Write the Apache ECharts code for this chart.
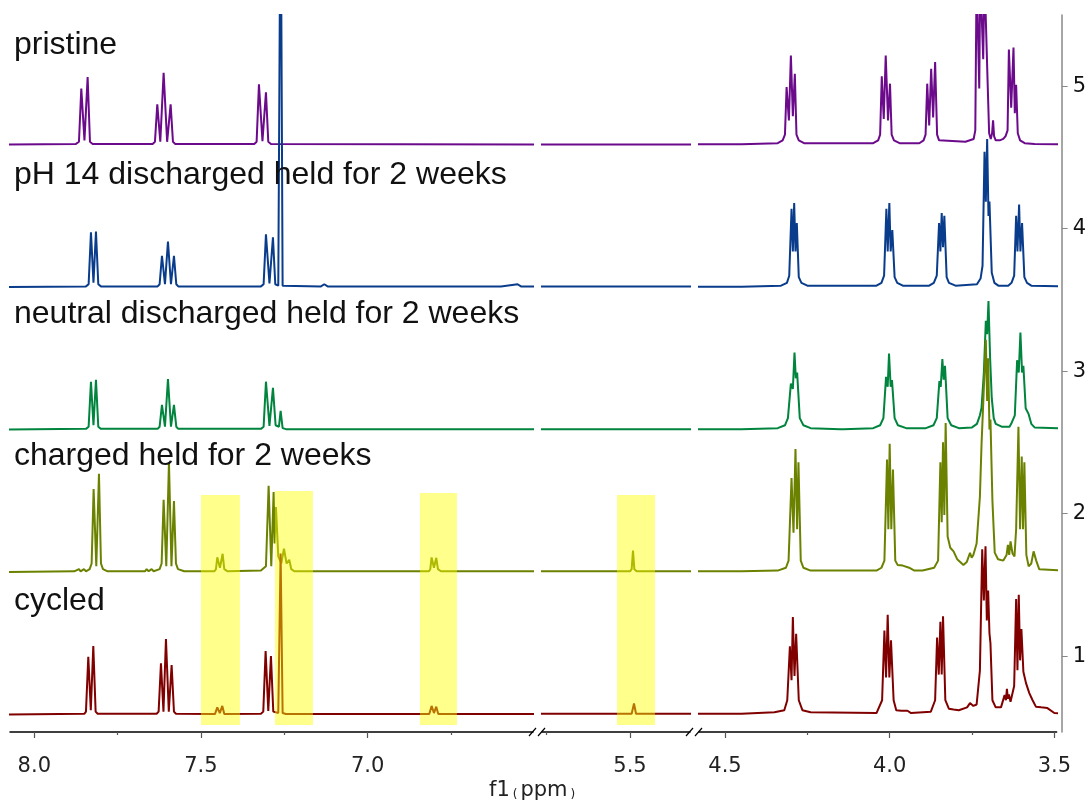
<!DOCTYPE html>
<html><head><meta charset="utf-8">
<script src="https://cdn.jsdelivr.net/npm/echarts@6/dist/echarts.min.js"></script>
<style>html,body{margin:0;padding:0;background:#fff}#c{width:1089px;height:801px}</style>
</head><body><div id="c"></div>
<script>
// ---------------- data (ppm, intensity above own baseline) ----------------
const spectrumNames = ['pristine', 'pH 14 discharged held for 2 weeks', 'neutral discharged held for 2 weeks', 'charged held for 2 weeks', 'cycled'];
const spectrumOffsets = [4.59, 3.59, 2.59, 1.59, 0.59];
const spectrumColors = ['#6c0a8c', '#0a3c8c', '#00843e', '#6b8200', '#800000'];

const pristine = [
  [8.10,0],[7.875,0.005],[7.866,0.02],[7.859,0.393],[7.8495,0.03],[7.840,0.474],[7.833,0.02],[7.825,0.005],
  [7.645,0.005],[7.638,0.02],[7.631,0.283],[7.622,0.02],[7.612,0.505],[7.6015,0.02],[7.591,0.283],[7.584,0.02],[7.577,0.005],
  [7.340,0.005],[7.333,0.02],[7.326,0.423],[7.3155,0.025],[7.305,0.367],[7.298,0.02],[7.290,0.005],
  [6.40,0],[4.45,0.003],
  [4.34,0.01],[4.325,0.03],[4.318,0.07],[4.313,0.404],[4.306,0.17],[4.300,0.626],[4.294,0.20],[4.288,0.498],[4.283,0.07],[4.276,0.03],[4.26,0.01],
  [4.05,0.01],[4.035,0.03],[4.029,0.07],[4.024,0.479],[4.018,0.18],[4.012,0.626],[4.005,0.17],[3.999,0.428],[3.994,0.07],[3.987,0.03],[3.97,0.01],
  [3.91,0.01],[3.897,0.03],[3.891,0.07],[3.886,0.428],[3.880,0.135],[3.874,0.533],[3.868,0.19],[3.862,0.58],[3.856,0.07],[3.850,0.03],
  [3.77,0.02],[3.745,0.04],
  [3.740,0.10],[3.736,1.2],[3.731,1.2],[3.728,0.395],[3.725,1.2],[3.720,1.2],[3.716,0.6],[3.712,1.2],[3.707,1.2],[3.703,0.47],[3.698,0.08],[3.693,0.04],[3.689,0.08],[3.686,0.17],[3.683,0.06],[3.678,0.03],[3.672,0.04],[3.666,0.03],
  [3.655,0.04],[3.648,0.06],[3.642,0.10],[3.638,0.667],[3.631,0.26],[3.624,0.681],[3.620,0.22],[3.616,0.42],[3.611,0.08],[3.604,0.03],[3.59,0.01],[3.56,0.005],[3.40,0]
];
const ph14 = [
  [8.10,0],[7.845,0.005],[7.837,0.02],[7.830,0.385],[7.8225,0.03],[7.815,0.39],[7.808,0.02],[7.80,0.005],
  [7.630,0.005],[7.624,0.02],[7.617,0.22],[7.608,0.02],[7.599,0.32],[7.590,0.02],[7.581,0.22],[7.574,0.02],[7.568,0.005],
  [7.320,0.005],[7.312,0.02],[7.305,0.37],[7.2945,0.025],[7.284,0.35],[7.277,0.02],[7.268,0.01],[7.261,3.0],[7.255,0.01],
  [7.14,0.005],[7.13,0.02],[7.12,0.005],[6.60,0.005],[6.55,0.02],[6.54,0.005],[4.45,0.003],
  [4.33,0.01],[4.312,0.03],[4.305,0.08],[4.298,0.55],[4.294,0.25],[4.290,0.59],[4.286,0.25],[4.282,0.45],[4.276,0.07],[4.268,0.03],[4.25,0.01],
  [4.04,0.01],[4.025,0.03],[4.017,0.08],[4.010,0.55],[4.006,0.25],[4.001,0.59],[3.997,0.25],[3.992,0.40],[3.985,0.07],[3.977,0.03],[3.96,0.01],
  [3.88,0.01],[3.866,0.03],[3.857,0.08],[3.850,0.45],[3.846,0.25],[3.842,0.52],[3.838,0.28],[3.834,0.50],[3.827,0.07],[3.82,0.03],[3.80,0.01],
  [3.735,0.02],[3.724,0.06],[3.718,0.15],[3.712,0.95],[3.708,0.6],[3.704,1.04],[3.700,0.5],[3.697,0.6],[3.690,0.10],[3.682,0.03],[3.67,0.01],
  [3.64,0.01],[3.630,0.03],[3.622,0.08],[3.616,0.50],[3.612,0.25],[3.607,0.58],[3.603,0.25],[3.598,0.45],[3.591,0.07],[3.583,0.03],[3.57,0.01],[3.40,0]
];
const neutral = [
  [8.10,0],[7.845,0.005],[7.837,0.02],[7.830,0.336],[7.8225,0.03],[7.815,0.35],[7.808,0.02],[7.80,0.005],
  [7.630,0.005],[7.624,0.02],[7.617,0.173],[7.608,0.02],[7.599,0.355],[7.590,0.02],[7.581,0.173],[7.574,0.02],[7.568,0.005],
  [7.320,0.005],[7.312,0.02],[7.305,0.336],[7.2945,0.025],[7.284,0.293],[7.276,0.03],[7.266,0.02],[7.261,0.131],[7.255,0.01],[7.245,0.003],
  [4.45,0.003],
  [4.34,0.01],[4.318,0.03],[4.309,0.08],[4.300,0.323],[4.294,0.285],[4.289,0.54],[4.285,0.36],[4.281,0.40],[4.273,0.08],[4.262,0.03],[4.24,0.01],
  [4.15,0.003],[4.146,0.008],[4.14,0.003],
  [4.05,0.01],[4.029,0.03],[4.019,0.08],[4.011,0.37],[4.006,0.30],[4.002,0.533],[3.997,0.30],[3.993,0.347],[3.985,0.08],[3.975,0.03],[3.95,0.01],
  [3.89,0.01],[3.867,0.03],[3.857,0.08],[3.849,0.34],[3.845,0.30],[3.840,0.494],[3.836,0.35],[3.832,0.447],[3.824,0.08],[3.813,0.03],[3.79,0.01],
  [3.75,0.015],[3.735,0.04],[3.726,0.10],[3.721,0.154],[3.714,0.4],[3.708,0.763],[3.704,0.67],[3.700,0.903],[3.695,0.5],[3.690,0.22],[3.684,0.08],[3.678,0.04],[3.66,0.02],
  [3.636,0.02],[3.631,0.04],[3.626,0.03],[3.620,0.10],[3.613,0.487],[3.608,0.40],[3.603,0.681],[3.598,0.40],[3.594,0.447],[3.587,0.15],[3.578,0.108],[3.570,0.04],[3.56,0.015],[3.40,0]
];
const charged = [
  [8.10,0],[7.88,0.005],[7.866,0.02],[7.861,0.005],[7.851,0.02],[7.845,0.005],
  [7.834,0.02],[7.828,0.06],[7.822,0.582],[7.814,0.04],[7.806,0.69],[7.800,0.06],[7.794,0.02],[7.78,0.005],
  [7.668,0.005],[7.663,0.02],[7.657,0.005],[7.648,0.02],[7.642,0.005],
  [7.624,0.02],[7.618,0.06],[7.612,0.507],[7.604,0.04],[7.596,0.77],[7.5885,0.04],[7.581,0.498],[7.575,0.06],[7.569,0.02],[7.55,0.005],
  [7.46,0.005],[7.455,0.02],[7.451,0.103],[7.443,0.03],[7.435,0.128],[7.430,0.02],[7.42,0.005],
  [7.32,0.01],[7.305,0.04],[7.297,0.606],[7.289,0.04],[7.282,0.561],[7.279,0.2],[7.275,0.456],[7.268,0.11],[7.259,0.06],[7.251,0.163],[7.243,0.06],[7.235,0.086],[7.229,0.02],[7.22,0.005],
  [6.816,0.005],[6.812,0.02],[6.808,0.103],[6.801,0.03],[6.794,0.10],[6.789,0.02],[6.78,0.005],
  [5.50,0.005],[5.495,0.02],[5.491,0.15],[5.487,0.02],[5.48,0.005],
  [4.45,0.005],[4.34,0.01],[4.315,0.03],[4.307,0.08],[4.298,0.66],[4.292,0.276],[4.286,0.863],[4.281,0.30],[4.277,0.77],[4.270,0.08],[4.262,0.03],[4.24,0.01],
  [4.04,0.01],[4.025,0.03],[4.016,0.08],[4.008,0.79],[4.004,0.30],[4.000,0.90],[3.995,0.30],[3.990,0.72],[3.983,0.08],[3.976,0.05],[3.96,0.045],[3.941,0.03],[3.925,0.01],
  [3.90,0.01],[3.865,0.03],[3.853,0.08],[3.846,0.77],[3.842,0.35],[3.838,0.91],[3.834,0.40],[3.830,1.046],[3.824,0.25],[3.816,0.17],[3.806,0.145],[3.795,0.09],[3.776,0.05],[3.766,0.07],[3.756,0.135],[3.751,0.10],[3.746,0.12],[3.736,0.2],[3.726,0.53],
  [3.721,0.9],[3.708,1.63],[3.704,1.2],[3.701,1.5],[3.697,1.0],[3.694,1.07],[3.688,0.5],[3.681,0.136],[3.671,0.09],[3.655,0.08],
  [3.645,0.12],[3.641,0.19],[3.637,0.12],[3.633,0.215],[3.627,0.13],[3.621,0.11],[3.616,0.3],
  [3.609,1.02],[3.604,0.30],[3.599,0.81],[3.595,0.30],[3.591,0.77],[3.585,0.12],[3.578,0.04],[3.570,0.06],[3.563,0.145],[3.555,0.08],[3.546,0.02],[3.40,0]
];
const cycled = [
  [8.10,0],[7.85,0.005],[7.845,0.02],[7.838,0.405],[7.8305,0.03],[7.823,0.48],[7.816,0.02],[7.81,0.005],
  [7.633,0.005],[7.627,0.02],[7.620,0.359],[7.6125,0.02],[7.605,0.53],[7.5965,0.02],[7.588,0.347],[7.581,0.02],[7.575,0.005],
  [7.458,0.003],[7.451,0.05],[7.4435,0.01],[7.436,0.06],[7.43,0.003],
  [7.32,0.005],[7.313,0.02],[7.306,0.445],[7.298,0.025],[7.290,0.41],[7.283,0.02],[7.268,0.01],[7.261,1.13],[7.255,0.01],[7.245,0.003],
  [6.815,0.003],[6.808,0.06],[6.801,0.01],[6.794,0.055],[6.788,0.003],
  [5.495,0.005],[5.488,0.078],[5.482,0.005],
  [4.45,0.005],[4.35,0.015],[4.32,0.03],[4.311,0.10],[4.303,0.478],[4.298,0.24],[4.294,0.684],[4.289,0.27],[4.284,0.567],[4.276,0.10],[4.265,0.03],[4.24,0.015],
  [4.04,0.01],[4.023,0.10],[4.016,0.59],[4.011,0.26],[4.006,0.70],[4.001,0.26],[3.996,0.52],[3.988,0.10],[3.98,0.03],[3.965,0.026],[3.946,0.026],[3.935,0.01],
  [3.875,0.02],[3.862,0.10],[3.856,0.54],[3.851,0.28],[3.846,0.65],[3.842,0.28],[3.838,0.69],[3.831,0.10],[3.82,0.04],[3.806,0.035],[3.79,0.03],[3.765,0.05],[3.756,0.08],[3.746,0.06],[3.736,0.07],
  [3.726,0.31],[3.719,1.16],[3.714,0.8],[3.709,1.18],[3.705,0.66],[3.701,0.87],[3.697,0.57],[3.694,0.5],[3.688,0.10],[3.678,0.05],[3.662,0.05],
  [3.651,0.136],[3.647,0.10],[3.644,0.18],[3.641,0.11],[3.638,0.14],[3.633,0.09],[3.628,0.08],[3.622,0.2],
  [3.616,0.81],[3.612,0.31],[3.608,0.84],[3.604,0.38],[3.600,0.60],[3.594,0.30],[3.586,0.22],[3.576,0.15],[3.566,0.10],[3.556,0.055],[3.54,0.05],[3.521,0.045],[3.50,0.01],[3.40,0]
];
const spectra = [pristine, ph14, neutral, charged, cycled];

// highlighted regions: [ppmLeft, ppmRight, yBottom, yTop]
const highlightsLeft = [[7.500, 7.383, 0.516, 2.13], [7.278, 7.164, 0.516, 2.158], [6.843, 6.732, 0.516, 2.144]];
const highlightsMid = [[5.539, 5.425, 0.516, 2.13]];

// axis ranges (ppm, high -> low) and tick labels
const segmentRanges = [[8.0729, 6.5038], [5.764, 5.320], [4.579, 3.493]];
const majorTicks = [[8.0, 7.5, 7.0], [5.5], [4.5, 4.0, 3.5]];
const minorTicks = [[7.75, 7.25, 6.75], [5.75], [4.25, 3.75]];
const yTicks = [1, 2, 3, 4, 5];
const yRange = [0.467, 5.5];

// ---------------- chart ----------------
const chart = echarts.init(document.getElementById('c'), null, { renderer: 'canvas' });
const gridBoxes = [{ left: 10, width: 523 }, { left: 542, width: 148 }, { left: 699, width: 362 }];
const grids = gridBoxes.map(g => ({ left: g.left, width: g.width, top: 15, height: 717 }));

const xAxes = [];
segmentRanges.forEach((r, i) => {
  xAxes.push({
    type: 'value', gridIndex: i, inverse: true, min: r[1], max: r[0], position: 'bottom',
    axisLine: { show: true, onZero: false, lineStyle: { color: '#000', width: 1.5 } },
    axisTick: { show: true, customValues: majorTicks[i], length: 6, lineStyle: { color: '#555', width: 1.2 } },
    axisLabel: { customValues: majorTicks[i], formatter: v => v.toFixed(1), fontSize: 21, fontFamily: 'DejaVu Sans', color: '#222', margin: 24 },
    splitLine: { show: false }
  });
});
segmentRanges.forEach((r, i) => {
  xAxes.push({
    type: 'value', gridIndex: i, inverse: true, min: r[1], max: r[0], position: 'bottom',
    axisLine: { show: false, onZero: false },
    axisTick: { show: true, customValues: minorTicks[i], length: 3, lineStyle: { color: '#555', width: 1.2 } },
    axisLabel: { show: false }, splitLine: { show: false }
  });
});
const yAxes = [0, 1, 2].map(i => i < 2 ? {
  type: 'value', gridIndex: i, min: yRange[0], max: yRange[1], show: false
} : {
  type: 'value', gridIndex: i, min: yRange[0], max: yRange[1], position: 'right', offset: 5,
  axisLine: { show: true, lineStyle: { color: '#888', width: 1.5 } },
  axisTick: { show: true, customValues: yTicks, length: 6, lineStyle: { color: '#888' } },
  axisLabel: { customValues: yTicks, fontSize: 21, fontFamily: 'DejaVu Sans', color: '#111', margin: 11 },
  splitLine: { show: false }
});

const series = [];
spectra.forEach((sp, si) => {
  const data = sp.map(p => [p[0], p[1] + spectrumOffsets[si]]);
  for (let g = 0; g < 3; g++) {
    series.push({
      type: 'line', xAxisIndex: g, yAxisIndex: g, data: data, showSymbol: false, symbol: 'none',
      clip: true, animation: false, z: 2 + si,
      lineStyle: { color: spectrumColors[si], width: 2 }
    });
  }
});
function boxRender(params, api) {
  const p1 = api.coord([api.value(0), api.value(3)]);
  const p2 = api.coord([api.value(1), api.value(2)]);
  return { type: 'rect', shape: { x: Math.min(p1[0], p2[0]), y: Math.min(p1[1], p2[1]), width: Math.abs(p2[0] - p1[0]), height: Math.abs(p2[1] - p1[1]) },
    style: { fill: 'rgba(255,255,0,0.45)' } };
}
series.push({ type: 'custom', xAxisIndex: 0, yAxisIndex: 0, data: highlightsLeft, encode: { x: [0, 1], y: [2, 3] }, renderItem: boxRender, z: 20, animation: false, clip: false });
series.push({ type: 'custom', xAxisIndex: 1, yAxisIndex: 1, data: highlightsMid, encode: { x: [0, 1], y: [2, 3] }, renderItem: boxRender, z: 20, animation: false, clip: false });

// labels and decorations
const labelCenters = [48, 178, 317, 459, 604];
const graphics = spectrumNames.map((n, i) => ({
  type: 'text', left: 14, top: labelCenters[i] - 19, z: 30,
  style: { text: n, font: '32px "Liberation Sans", Arial, sans-serif', fill: '#111' }
}));
// break marks
[533, 542, 690, 699].forEach(x => {
  graphics.push({ type: 'line', z: 30, shape: { x1: x - 4, y1: 736, x2: x + 3, y2: 728 }, style: { stroke: '#000', lineWidth: 1.2 } });
});
graphics.push({
  type: 'text', z: 30, left: 489, top: 780,
  style: {
    text: '{n|f1}{s|(}{n|ppm}{s|)}',
    rich: { n: { fontSize: 21, fontFamily: 'DejaVu Sans', fill: '#222', verticalAlign: 'bottom' },
            s: { fontSize: 12, fontFamily: 'DejaVu Sans', fill: '#222', verticalAlign: 'bottom', padding: [0, 3, 0, 3] } }
  }
});

chart.setOption({
  animation: false,
  backgroundColor: '#fff',
  grid: grids,
  xAxis: xAxes,
  yAxis: yAxes,
  series: series,
  graphic: graphics
});
</script></body></html>
